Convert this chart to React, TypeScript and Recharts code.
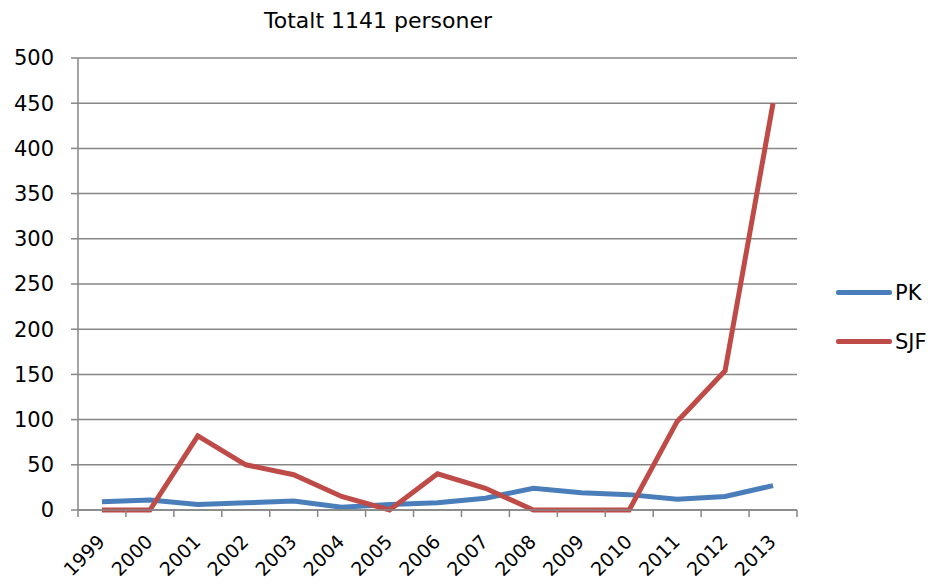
import React from 'react';
import { LineChart, Line, XAxis, YAxis, CartesianGrid, Legend } from 'recharts';

const years = ['1999', '2000', '2001', '2002', '2003', '2004', '2005', '2006', '2007', '2008', '2009', '2010', '2011', '2012', '2013'];
const pkValues = [9, 11, 6, 8, 10, 3, 6, 8, 13, 24, 19, 17, 12, 15, 27];
const sjfValues = [0, 0, 82, 50, 39, 15, 0, 40, 24, 0, 0, 0, 98, 154, 450];
const yTicks = [0, 50, 100, 150, 200, 250, 300, 350, 400, 450, 500];
const title = 'Totalt 1141 personer';
const seriesNames = ['PK', 'SJF'];
const seriesColors = ['#4a7ebb', '#be4b48'];

const data = years.map((y, i) => ({ year: y, pos: i + 0.5, PK: pkValues[i], SJF: sjfValues[i] }));
// ticks at band boundaries (tick marks) and band centres (labels)
const xTicks: number[] = [];
for (let i = 0; i <= years.length * 2; i++) xTicks.push(i / 2);

const FONT = '"DejaVu Sans", Verdana, sans-serif';
const AXIS = '#868686';

const XTick = (props: any) => {
  const { x, y, payload } = props;
  const v = payload.value as number;
  if (Number.isInteger(v)) {
    return <line x1={x} y1={y} x2={x} y2={y + 7} stroke={AXIS} strokeWidth={1.5} />;
  }
  const label = years[Math.floor(v)];
  const ax = x + 4;
  const ay = y + 33;
  return (
    <text x={ax} y={ay} transform={`rotate(-45 ${ax} ${ay})`} textAnchor="end" fontSize={19} fontFamily={FONT} fill="#000">
      {label}
    </text>
  );
};

const LegendContent = () => (
  <div style={{ fontFamily: FONT, fontSize: 21, color: '#000' }}>
    {seriesNames.map((n, i) => (
      <div key={n} style={{ display: 'flex', alignItems: 'center', height: 49 }}>
        <div style={{ width: 56, height: 5, background: seriesColors[i], borderRadius: 2, marginRight: 3 }} />
        <span>{n}</span>
      </div>
    ))}
  </div>
);

export default function App() {
  return (
    <div style={{ position: 'absolute', left: 0, top: 0, width: 928, height: 584, background: '#fff', overflow: 'hidden' }}>
      <div style={{ position: 'absolute', left: 0, top: 8, width: 756, textAlign: 'center', fontFamily: FONT, fontSize: 22, color: '#000' }}>
        {title}
      </div>
      <LineChart width={928} height={584} data={data} margin={{ top: 58, right: 39, bottom: 0, left: 0 }}>
        <CartesianGrid horizontal={true} vertical={false} stroke={AXIS} strokeWidth={1.5} />
        <XAxis
          dataKey="pos"
          type="number"
          domain={[0, years.length]}
          ticks={xTicks}
          interval={0}
          tick={<XTick />}
          tickLine={false}
          tickSize={0}
          tickMargin={0}
          height={74}
          axisLine={{ stroke: AXIS, strokeWidth: 1.5 }}
        />
        <YAxis
          type="number"
          domain={[0, 500]}
          ticks={yTicks}
          interval={0}
          width={78}
          tickSize={7}
          tickMargin={17}
          tickLine={{ stroke: AXIS, strokeWidth: 1.5 }}
          axisLine={{ stroke: AXIS, strokeWidth: 1.5 }}
          tick={{ fill: '#000', fontSize: 21, fontFamily: FONT }}
        />
        <Legend
          layout="horizontal"
          verticalAlign="middle"
          align="right"
          content={<LegendContent />}
          wrapperStyle={{ left: 836, top: 268, width: 92 }}
        />
        <Line type="linear" dataKey="PK" name={seriesNames[0]} stroke={seriesColors[0]} strokeWidth={5} dot={false} isAnimationActive={false} />
        <Line type="linear" dataKey="SJF" name={seriesNames[1]} stroke={seriesColors[1]} strokeWidth={5} dot={false} isAnimationActive={false} />
      </LineChart>
    </div>
  );
}
